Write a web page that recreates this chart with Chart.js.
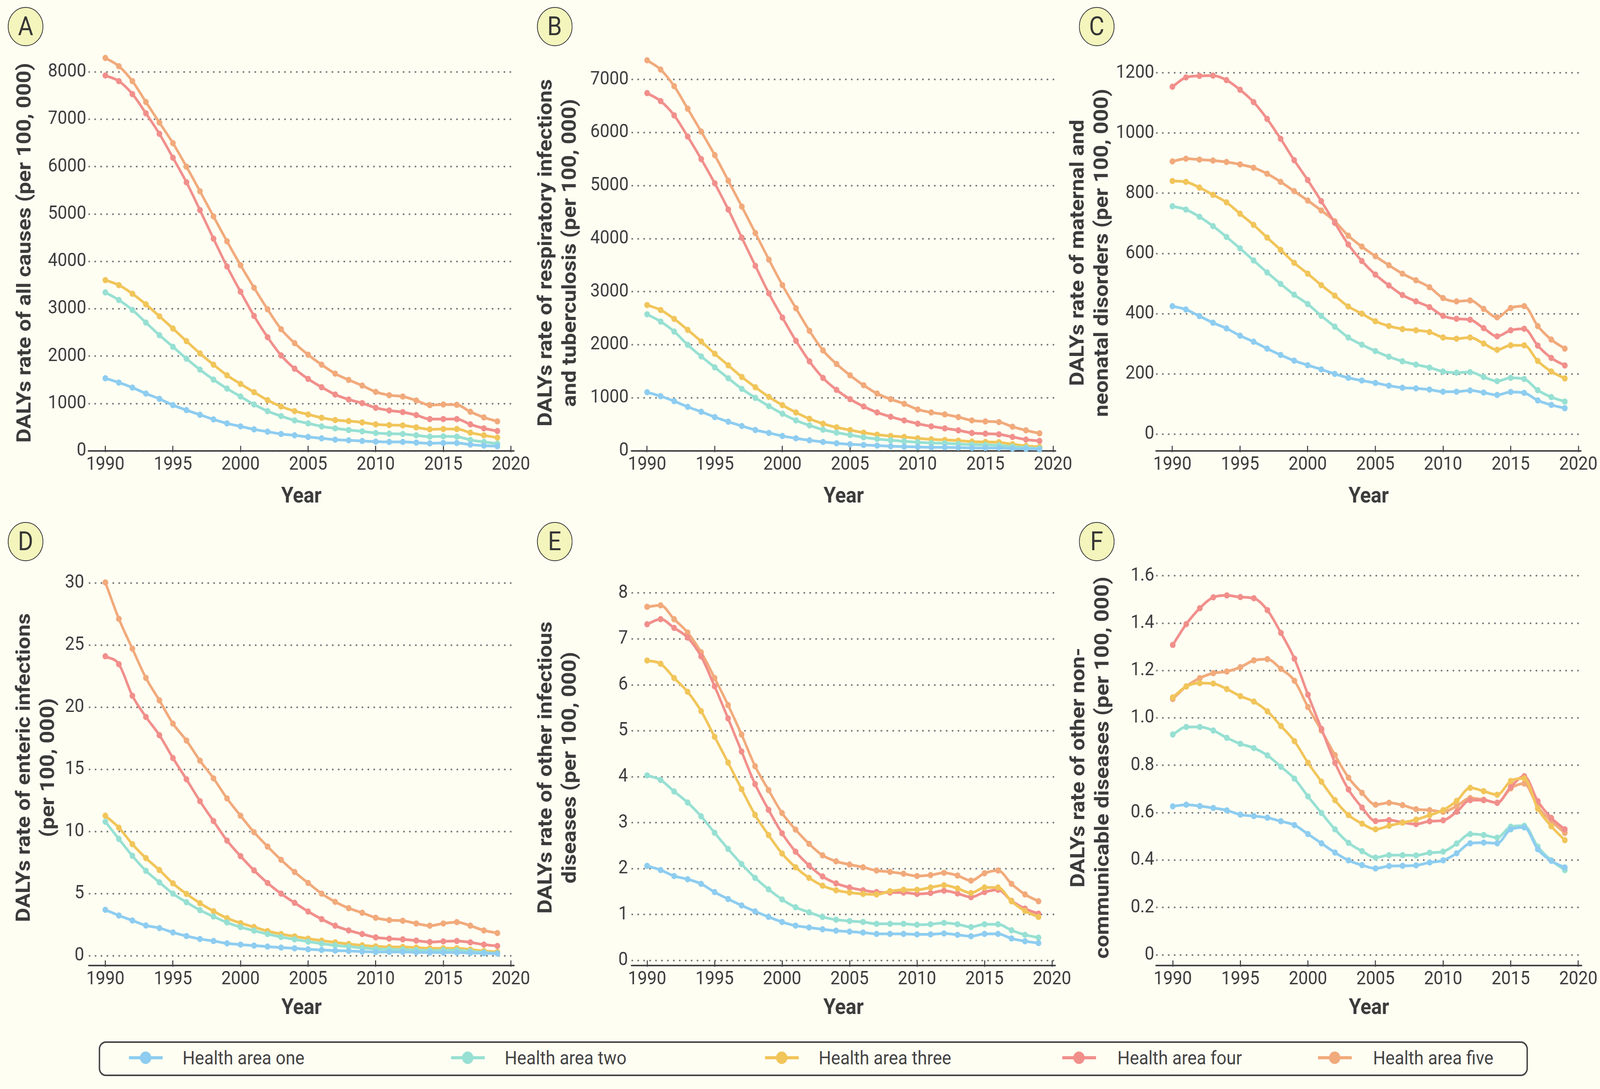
<!DOCTYPE html>
<html>
<head>
<meta charset="utf-8">
<script src="https://cdn.jsdelivr.net/npm/chart.js@4.4.1/dist/chart.umd.min.js"></script>
<style>
html,body{margin:0;padding:0;background:#fefef3;overflow:hidden;}
#stage{position:absolute;left:0;top:0;width:4505px;height:2787px;transform-origin:0 0;font-family:Roboto,sans-serif;background:#fefef3;}
canvas{position:absolute;}
.tag{position:absolute;width:100px;height:100px;border:2.5px solid #333;border-radius:50%;background:#f4f5bd;box-sizing:border-box;display:flex;align-items:center;justify-content:center;font:400 66px/1 Roboto;color:#363636;}
.legend{position:absolute;left:278px;top:2665px;width:4024px;height:89px;border:4px solid #444;border-radius:20px;box-sizing:border-box;}
.kline{position:absolute;height:8.5px;width:95px;}
.kdot{position:absolute;width:32px;height:32px;border-radius:50%;}
.ktext{position:absolute;font:400 49px/1 Roboto;color:#444;white-space:nowrap;}
</style>
</head>
<body>
<div id="stage"></div>
<script>
// ---------- data ----------
const YEARS = [1990,1991,1992,1993,1994,1995,1996,1997,1998,1999,2000,2001,2002,2003,2004,2005,2006,2007,2008,2009,2010,2011,2012,2013,2014,2015,2016,2017,2018,2019];
const X_TICKS = [1990,1995,2000,2005,2010,2015,2020];
const SERIES_NAMES = ['Health area one','Health area two','Health area three','Health area four','Health area five'];

// A: all causes
const allCausesOne   = [1533,1442,1337,1211,1099,966,861,763,665,581,518,455,406,357,329,294,266,238,224,210,196,189,189,175,161,168,168,133,112,98];
const allCausesTwo   = [3346,3185,2975,2709,2443,2198,1946,1715,1505,1316,1148,980,840,735,644,581,518,476,441,413,378,364,357,329,301,308,301,231,189,154];
const allCausesThree = [3605,3500,3318,3094,2842,2583,2317,2058,1820,1596,1414,1239,1071,938,840,770,700,651,630,602,560,546,539,497,455,462,462,385,329,280];
const allCausesFour  = [7924,7805,7532,7126,6692,6188,5670,5082,4480,3892,3360,2849,2401,2016,1736,1519,1344,1190,1085,1008,910,854,819,756,672,672,672,560,476,420];
const allCausesFive  = [8295,8120,7805,7364,6930,6496,5999,5481,4949,4424,3920,3444,2989,2569,2275,2030,1820,1631,1498,1379,1246,1176,1148,1064,966,980,973,826,707,623];
const allCausesTicks = [0,1000,2000,3000,4000,5000,6000,7000,8000];

// B: respiratory infections and tuberculosis
const respOne   = [1106,1031,938,831,738,638,550,469,394,338,281,238,200,169,144,125,113,100,88,81,75,69,69,63,56,56,56,44,38,31];
const respTwo   = [2575,2438,2250,2000,1781,1575,1369,1169,1000,844,700,575,481,400,344,300,256,225,200,181,163,150,144,131,119,113,106,81,63,44];
const respThree = [2750,2656,2488,2281,2063,1831,1613,1394,1200,1019,863,725,606,513,444,394,344,306,281,263,238,219,206,194,175,169,163,125,94,75];
const respFour  = [6744,6594,6325,5925,5500,5044,4550,4019,3488,2969,2513,2075,1688,1375,1150,975,838,725,644,575,513,463,425,388,338,325,313,263,213,188];
const respFive  = [7363,7188,6875,6450,6019,5575,5094,4606,4106,3606,3125,2688,2263,1894,1638,1425,1238,1081,975,888,781,725,688,638,575,556,544,456,388,331];
const respTicks = [0,1000,2000,3000,4000,5000,6000,7000];

// C: maternal and neonatal disorders
const matOne   = [425,414,392,370,351,327,307,284,263,244,229,215,200,187,178,170,161,154,152,148,141,141,145,138,130,140,137,112,97,86];
const matTwo   = [757,746,722,691,655,617,577,537,499,463,432,393,357,321,297,276,257,242,231,221,208,204,206,190,176,187,183,146,123,108];
const matThree = [841,838,819,795,770,732,695,653,612,569,533,495,460,424,400,375,359,349,345,339,321,317,321,301,280,295,295,243,208,185];
const matFour  = [1154,1185,1190,1191,1176,1144,1103,1047,981,910,844,774,702,630,575,530,494,462,441,422,393,383,380,352,325,345,350,294,253,228];
const matFive  = [906,915,912,909,904,896,885,865,838,807,776,743,707,659,623,591,561,533,511,488,452,441,444,416,388,419,425,359,314,284];
const matTicks = [0,200,400,600,800,1000,1200];

// D: enteric infections
const entOne   = [3.71,3.25,2.85,2.45,2.24,1.89,1.60,1.36,1.20,1.01,0.91,0.83,0.75,0.67,0.61,0.53,0.48,0.43,0.40,0.35,0.32,0.32,0.32,0.29,0.27,0.27,0.27,0.24,0.21,0.19];
const entTwo   = [10.8,9.41,8.05,6.85,5.92,5.01,4.32,3.68,3.17,2.69,2.32,2.03,1.76,1.52,1.33,1.15,0.99,0.85,0.75,0.64,0.56,0.53,0.51,0.48,0.43,0.45,0.45,0.37,0.29,0.21];
const entThree = [11.28,10.32,8.99,7.87,6.91,5.84,4.99,4.24,3.60,3.04,2.64,2.32,2.00,1.76,1.57,1.39,1.23,1.09,0.96,0.85,0.77,0.72,0.72,0.67,0.61,0.61,0.61,0.51,0.40,0.32];
const entFour  = [24.11,23.47,20.93,19.23,17.76,15.92,14.21,12.45,10.85,9.28,8.03,6.88,5.87,5.01,4.27,3.57,2.96,2.43,2.05,1.76,1.49,1.39,1.33,1.23,1.12,1.17,1.20,1.09,0.91,0.80];
const entFive  = [30.05,27.12,24.72,22.37,20.56,18.69,17.33,15.71,14.29,12.67,11.28,9.95,8.80,7.73,6.75,5.87,5.01,4.35,3.84,3.47,3.07,2.88,2.83,2.61,2.43,2.61,2.72,2.43,2.05,1.84];
const entTicks = [0,5,10,15,20,25,30];

// E: other infectious diseases
const infOne   = [2.06,1.97,1.84,1.77,1.67,1.49,1.34,1.20,1.07,0.95,0.84,0.76,0.72,0.68,0.65,0.63,0.61,0.58,0.58,0.58,0.57,0.57,0.59,0.56,0.53,0.58,0.58,0.48,0.42,0.38];
const infTwo   = [4.03,3.93,3.68,3.44,3.14,2.78,2.43,2.10,1.80,1.55,1.33,1.16,1.05,0.95,0.89,0.86,0.84,0.80,0.80,0.80,0.78,0.79,0.82,0.79,0.73,0.79,0.79,0.66,0.56,0.50];
const infThree = [6.53,6.46,6.15,5.85,5.43,4.87,4.31,3.73,3.17,2.73,2.33,2.03,1.80,1.63,1.53,1.48,1.45,1.44,1.51,1.54,1.54,1.59,1.64,1.57,1.47,1.59,1.59,1.29,1.08,0.95];
const infFour  = [7.32,7.43,7.24,7.03,6.62,5.97,5.27,4.55,3.84,3.28,2.77,2.37,2.07,1.83,1.68,1.59,1.53,1.49,1.48,1.48,1.45,1.47,1.52,1.46,1.38,1.49,1.54,1.30,1.13,1.02];
const infFive  = [7.70,7.73,7.43,7.14,6.71,6.15,5.56,4.92,4.23,3.71,3.21,2.85,2.54,2.29,2.16,2.09,2.03,1.96,1.93,1.89,1.84,1.86,1.91,1.85,1.74,1.90,1.96,1.67,1.44,1.29];
const infTicks = [0,1,2,3,4,5,6,7,8];

// F: other non-communicable diseases
const ncdOne   = [0.627,0.634,0.628,0.620,0.610,0.592,0.586,0.579,0.564,0.548,0.510,0.471,0.432,0.399,0.379,0.365,0.375,0.376,0.378,0.390,0.399,0.429,0.471,0.474,0.471,0.530,0.538,0.446,0.397,0.369];
const ncdTwo   = [0.930,0.962,0.962,0.947,0.916,0.891,0.873,0.842,0.794,0.744,0.669,0.599,0.530,0.473,0.438,0.411,0.421,0.421,0.420,0.431,0.436,0.470,0.510,0.506,0.495,0.541,0.545,0.457,0.399,0.358];
const ncdThree = [1.087,1.133,1.147,1.145,1.122,1.092,1.069,1.028,0.966,0.902,0.811,0.731,0.653,0.590,0.554,0.530,0.545,0.558,0.571,0.590,0.611,0.650,0.705,0.691,0.676,0.734,0.745,0.617,0.543,0.484];
const ncdFour  = [1.308,1.396,1.463,1.509,1.517,1.510,1.505,1.455,1.359,1.250,1.098,0.954,0.811,0.698,0.622,0.565,0.569,0.559,0.552,0.564,0.568,0.604,0.653,0.653,0.642,0.709,0.754,0.649,0.578,0.530];
const ncdFive  = [1.080,1.133,1.168,1.189,1.196,1.214,1.243,1.248,1.207,1.157,1.046,0.947,0.843,0.748,0.684,0.634,0.642,0.632,0.615,0.611,0.604,0.628,0.662,0.655,0.642,0.703,0.723,0.625,0.564,0.515];
const ncdTicks = [0,0.2,0.4,0.6,0.8,1.0,1.2,1.4,1.6];

// ---------- styles ----------
const COLORS = ['#8ecdf0','#97e0d3','#f1c55a','#f18f8b','#f1aa7b'];
const TEXT = '#3b3b3b';
const AXIS = '#444444';
const GRID = '#767676';

// layout (page pixels): canvas box, chart area [l,t,r,b], x pixels of 1990/2020, y [px,val,px,val]
const LAYOUT = {
  A:{canvas:[0,0,1520,1320],    ca:[251,140,1446,1154],  xp:[296.6,1438.5], yp:[1154,0,184,8000],     tickPad:8,  titleX:72,   yearPad:14, tag:[72,68]},
  B:{canvas:[1500,0,1530,1320], ca:[1780,140,2971,1154], xp:[1822,2965],    yp:[1154,0,203.6,7000],   tickPad:10, titleX:1539, yearPad:14, tag:[1561.5,68]},
  C:{canvas:[3000,0,1505,1320], ca:[3257,140,4450,1154], xp:[3301,4444],    yp:[1111,0,186.6,1200],   tickPad:7,  titleX:3037, yearPad:14, tag:[3088,68]},
  D:{canvas:[0,1320,1520,1320], ca:[252,1458,1446,2471], xp:[296.6,1438.5], yp:[2446.4,0,1492.2,30],  tickPad:15, titleX:70,   yearPad:25.5, tag:[72,1386]},
  E:{canvas:[1500,1320,1530,1320], ca:[1780,1458,2970,2471], xp:[1822,2962], yp:[2458.3,0,1517.6,8],  tickPad:12, titleX:1539, yearPad:25.5, tag:[1561.5,1386]},
  F:{canvas:[3000,1320,1505,1320], ca:[3257,1458,4452,2471], xp:[3302,4444], yp:[2443.9,0,1473.5,1.6], tickPad:7, titleX:3039, yearPad:25.5, tag:[3088,1386]}
};

const stage = document.getElementById('stage');
// fit the 4505x2787 design into the viewport that is really available
(function fit() {
  const vw = window.innerWidth, vh = window.innerHeight;
  const sx = vw / 4505, sy = vh / 2787;
  if (Math.abs(sx - 1) > 0.002 || Math.abs(sy - 1) > 0.002) {
    stage.style.transform = 'scale(' + sx + ',' + sy + ')';
  }
})();

const roundCap = { id:'roundCap', beforeDraw(chart){ chart.ctx.lineCap = 'round'; } };

function makePanel(letter, series, yTicks, title, yFmt) {
  const L = LAYOUT[letter];
  const [cl, ct, cw, ch] = L.canvas;
  const [al, at, ar, ab] = L.ca;
  const c = document.createElement('canvas');
  c.width = cw; c.height = ch;
  c.style.left = cl + 'px'; c.style.top = ct + 'px';
  c.style.width = cw + 'px'; c.style.height = ch + 'px';
  stage.appendChild(c);

  const kx = (L.xp[1] - L.xp[0]) / 30;
  const xmin = 1990 - (L.xp[0] - al) / kx;
  const xmax = 2020 + (ar - L.xp[1]) / kx;
  const [yA, vA, yB, vB] = L.yp;
  const ky = (yA - yB) / (vB - vA);
  const ymin = vA - (ab - yA) / ky;
  const ymax = vA + (yA - at) / ky;

  const tag = document.createElement('div');
  tag.className = 'tag';
  tag.textContent = letter;
  tag.style.left = (L.tag[0] - 50) + 'px';
  tag.style.top = (L.tag[1] - 50) + 'px';
  stage.appendChild(tag);

  new Chart(c, {
    type: 'line',
    data: {
      datasets: series.map((s, i) => ({
        label: SERIES_NAMES[i],
        data: YEARS.map((yr, j) => ({x: yr, y: s[j]})),
        borderColor: COLORS[i],
        backgroundColor: COLORS[i],
        pointBackgroundColor: COLORS[i],
        pointBorderWidth: 0,
        pointRadius: 8,
        borderWidth: 7,
        cubicInterpolationMode: 'monotone',
        fill: false,
        clip: false
      }))
    },
    options: {
      responsive: false,
      animation: false,
      devicePixelRatio: 1,
      events: [],
      layout: { padding: { left: 0, top: at - ct, right: cl + cw - ar, bottom: 0 } },
      plugins: { legend: { display: false }, tooltip: { enabled: false } },
      scales: {
        x: {
          type: 'linear', position: 'bottom', min: xmin, max: xmax,
          afterBuildTicks: s => { s.ticks = X_TICKS.map(v => ({value: v})); },
          afterFit: s => { s.height = ct + ch - ab; },
          ticks: { autoSkip: false, maxRotation: 0, minRotation: 0, padding: 2, color: TEXT,
                   font: { family: 'Roboto', size: 48, lineHeight: 1.9 }, callback: v => String(v) },
          grid: { display: true, drawOnChartArea: false, drawTicks: true, tickLength: -12, tickWidth: 3, tickColor: AXIS },
          border: { display: true, color: AXIS, width: 4 },
          title: { display: true, text: 'Year', color: TEXT,
                   font: { family: 'Roboto', size: 56, weight: 'bold', lineHeight: 1.214 },
                   padding: { top: 0, bottom: L.yearPad } }
        },
        y: {
          type: 'linear', position: 'left', min: ymin, max: ymax,
          afterBuildTicks: s => { s.ticks = yTicks.map(v => ({value: v})); },
          afterFit: s => { s.width = al - cl; },
          ticks: { padding: L.tickPad, color: TEXT, font: { family: 'Roboto', size: 48 }, callback: yFmt },
          grid: { display: true, drawOnChartArea: true, drawTicks: false, color: GRID, lineWidth: 4.5 },
          border: { display: false, dash: [0.5, 16.2] },
          title: { display: true, text: title, color: TEXT,
                   font: { family: 'Roboto', size: 56, weight: 'bold', lineHeight: 1.214 },
                   padding: { top: L.titleX - cl - 34, bottom: 0 } }
        }
      }
    },
    plugins: [roundCap]
  });
}

const intFmt = v => String(v);
const ncdFmt = v => (v === 0 ? '0' : v.toFixed(1));

makePanel('A', [allCausesOne, allCausesTwo, allCausesThree, allCausesFour, allCausesFive], allCausesTicks,
  'DALYs rate of all causes (per 100, 000)', intFmt);
makePanel('B', [respOne, respTwo, respThree, respFour, respFive], respTicks,
  ['DALYs rate of respiratory infections', 'and tuberculosis (per 100, 000)'], intFmt);
makePanel('C', [matOne, matTwo, matThree, matFour, matFive], matTicks,
  ['DALYs rate of maternal and', 'neonatal disorders (per 100, 000)'], intFmt);
makePanel('D', [entOne, entTwo, entThree, entFour, entFive], entTicks,
  ['DALYs rate of enteric infections', '(per 100, 000)'], intFmt);
makePanel('E', [infOne, infTwo, infThree, infFour, infFive], infTicks,
  ['DALYs rate of other infectious', 'diseases (per 100, 000)'], intFmt);
makePanel('F', [ncdOne, ncdTwo, ncdThree, ncdFour, ncdFive], ncdTicks,
  ['DALYs rate of other non-', 'communicable diseases (per 100, 000)'], ncdFmt);

// ---------- legend ----------
const LEGEND_MARK_X = [410, 1317, 2201, 3038, 3758];
const LEGEND_TEXT_X = [514, 1421, 2305, 3146, 3866];
const LEGEND_Y = 2707;
(function () {
  const box = document.createElement('div');
  box.className = 'legend';
  stage.appendChild(box);
  SERIES_NAMES.forEach((name, i) => {
    const ln = document.createElement('div');
    ln.className = 'kline';
    ln.style.background = COLORS[i];
    ln.style.left = (LEGEND_MARK_X[i] - 47.5) + 'px';
    ln.style.top = (LEGEND_Y - 4.25) + 'px';
    stage.appendChild(ln);
    const dot = document.createElement('div');
    dot.className = 'kdot';
    dot.style.background = COLORS[i];
    dot.style.left = (LEGEND_MARK_X[i] - 16) + 'px';
    dot.style.top = (LEGEND_Y - 16) + 'px';
    stage.appendChild(dot);
    const tx = document.createElement('div');
    tx.className = 'ktext';
    tx.textContent = name;
    tx.style.left = LEGEND_TEXT_X[i] + 'px';
    tx.style.top = (LEGEND_Y - 24.5) + 'px';
    stage.appendChild(tx);
  });
})();
</script>
</body>
</html>
